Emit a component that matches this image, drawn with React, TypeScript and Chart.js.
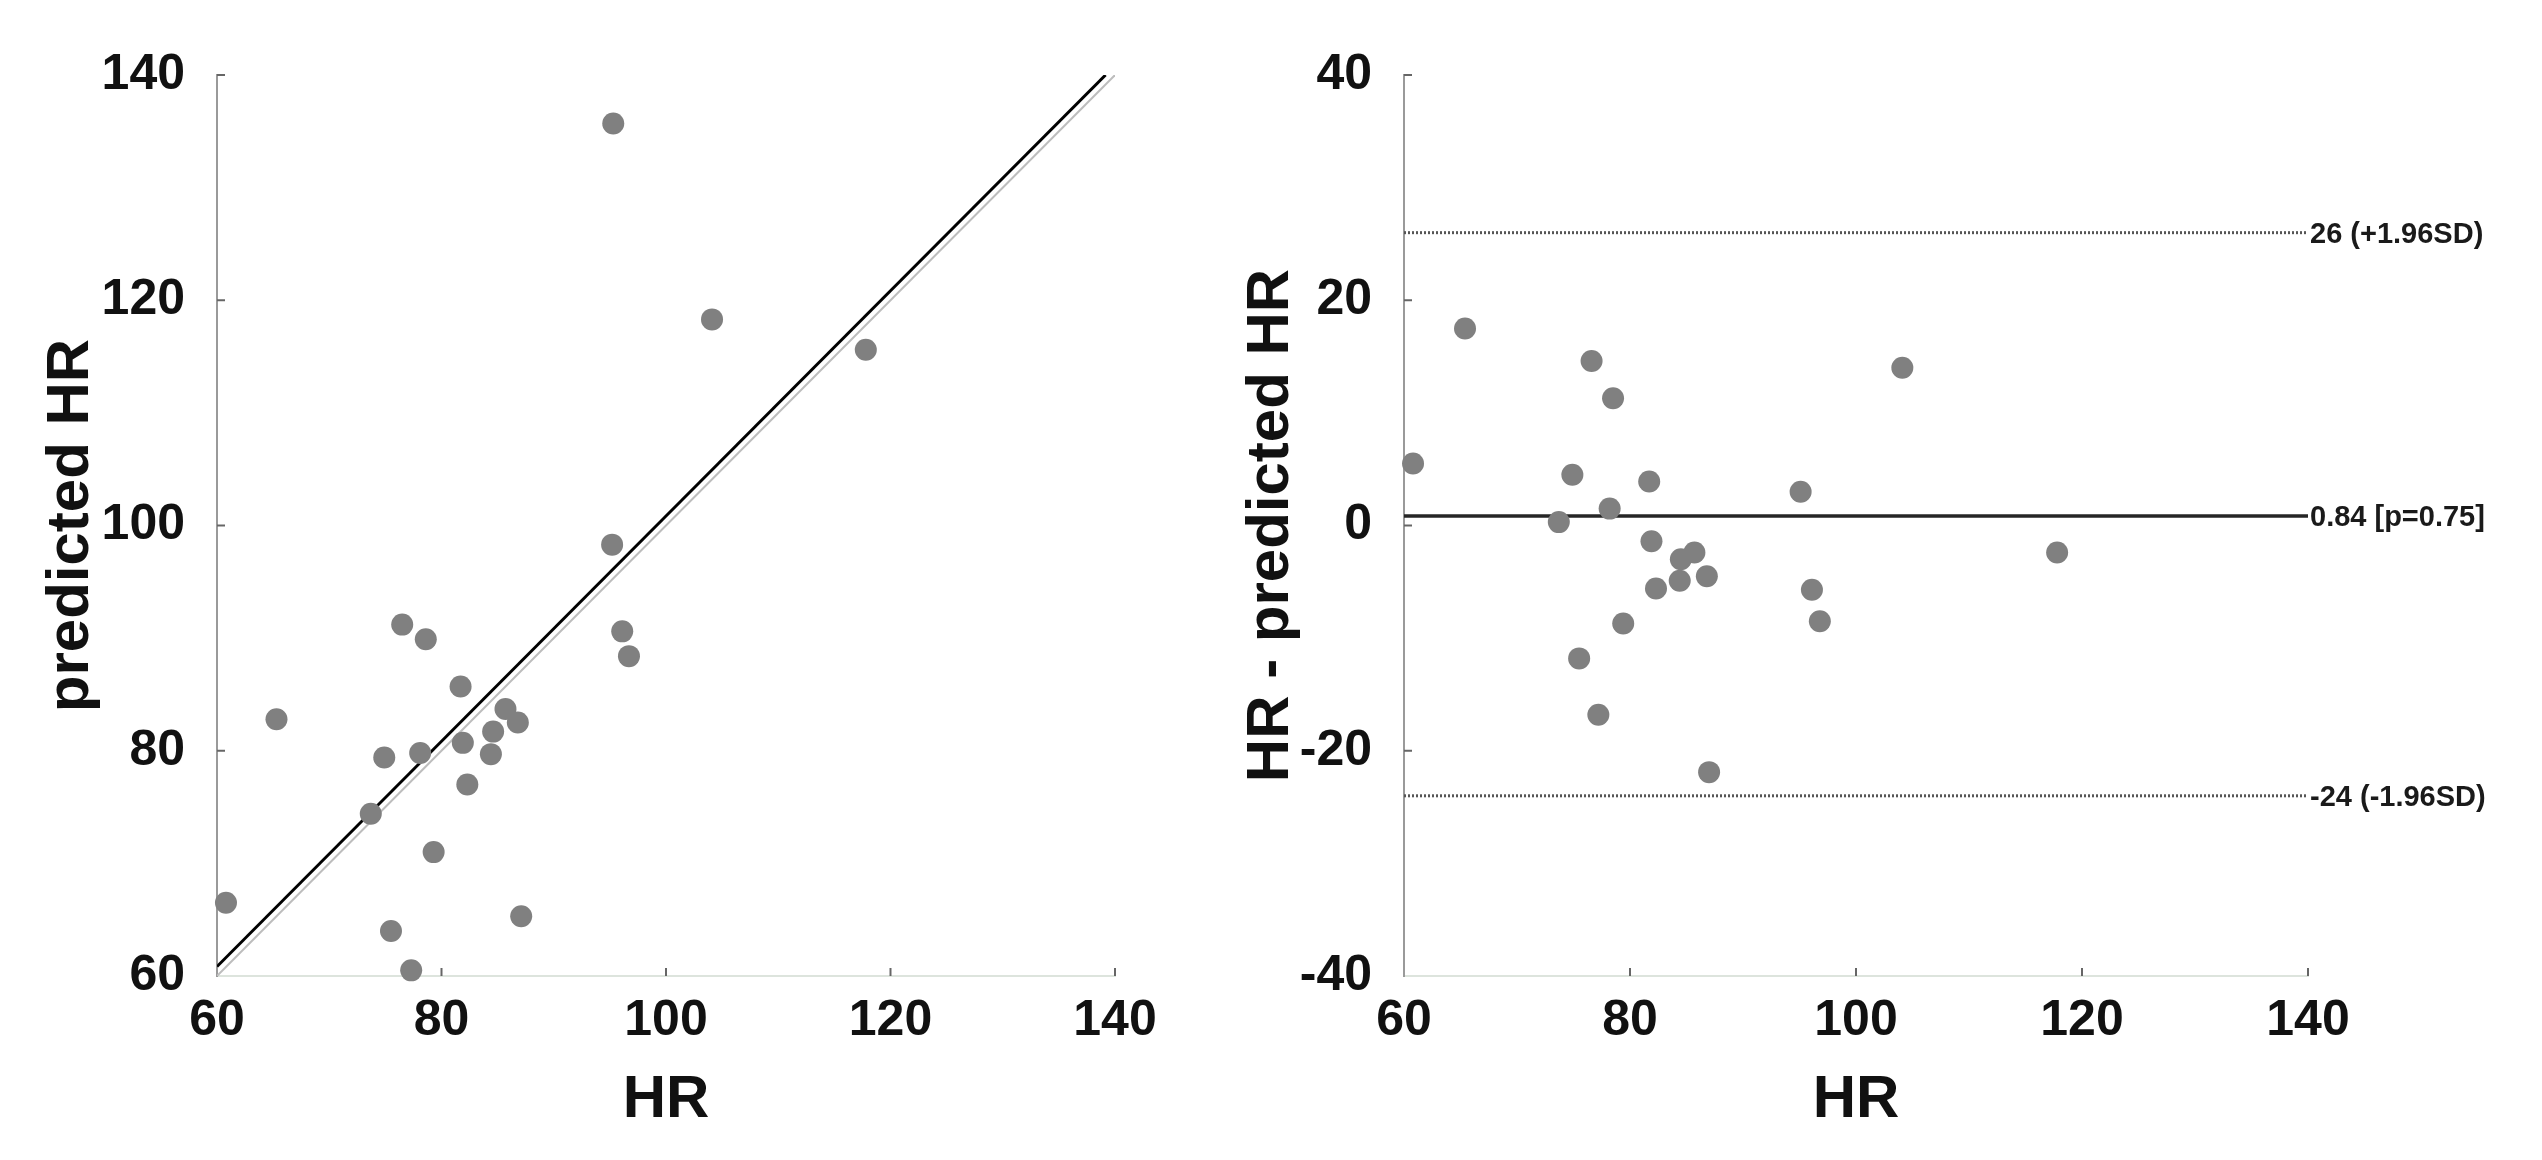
import React, { useEffect, useRef } from "react";
import { Chart, registerables } from "chart.js";
Chart.register(...registerables);

// ---- data ----
const HR_LEFT = [95.3, 104.1, 117.8, 95.2, 76.5, 78.6, 96.1, 96.7, 65.3, 81.7, 85.7, 86.8, 84.6, 74.9, 78.1, 81.9, 84.4, 82.3, 73.7, 79.3, 60.8, 75.5, 87.1, 77.3];
const PRED_LEFT = [135.7, 118.3, 115.6, 98.3, 91.2, 89.9, 90.6, 88.4, 82.8, 85.7, 83.7, 82.5, 81.7, 79.4, 79.8, 80.7, 79.7, 77.0, 74.4, 71.0, 66.5, 64.0, 65.3, 60.5];

const HR_RIGHT = [60.8, 65.4, 76.6, 78.5, 74.9, 81.7, 78.2, 73.7, 95.1, 104.1, 81.9, 85.7, 84.5, 84.4, 82.3, 86.8, 96.1, 96.8, 79.4, 117.8, 75.5, 77.2, 87.0];
const DIFF_RIGHT = [5.5, 17.5, 14.6, 11.3, 4.5, 3.9, 1.5, 0.3, 3.0, 14.0, -1.4, -2.4, -3.0, -4.9, -5.6, -4.5, -5.7, -8.5, -8.7, -2.4, -11.8, -16.8, -21.9];

const X_TICKS = [60, 80, 100, 120, 140];
const Y_TICKS_LEFT = [60, 80, 100, 120, 140];
const Y_TICKS_RIGHT = [-40, -20, 0, 20, 40];

const IDENTITY_X = [60, 140];
const IDENTITY_Y = [60, 140];
const FIT_X = [60, 139.16];
const FIT_Y = [60.84, 140];

const LIMIT_X = [60, 140];
const UPPER_LOA = 26;
const MEAN_DIFF = 0.84;
const LOWER_LOA = -24;
const REF_VALUES = [UPPER_LOA, MEAN_DIFF, LOWER_LOA];
const REF_LABELS = ["26 (+1.96SD)", "0.84 [p=0.75]", "-24 (-1.96SD)"];

const FAMILY = "'Liberation Sans', Arial, Helvetica, sans-serif";
const TICK_FONT = { family: FAMILY, size: 50, weight: "bold" as const };
const TITLE_FONT = { family: FAMILY, size: 60, weight: "bold" as const };
const DOT = "#808080";

const inwardTicks = {
  id: "inwardTicks",
  afterDatasetsDraw(chart: any) {
    const { ctx, chartArea, scales } = chart;
    ctx.save();
    ctx.strokeStyle = "#666";
    ctx.lineWidth = 2;
    scales.x.ticks.forEach((t: any, i: number) => {
      if (i === 0) return;
      const px = scales.x.getPixelForValue(t.value);
      ctx.beginPath();
      ctx.moveTo(px, chartArea.bottom);
      ctx.lineTo(px, chartArea.bottom - 8);
      ctx.stroke();
    });
    scales.y.ticks.forEach((t: any, i: number) => {
      if (i === 0) return;
      const py = scales.y.getPixelForValue(t.value);
      ctx.beginPath();
      ctx.moveTo(chartArea.left, py);
      ctx.lineTo(chartArea.left + 8, py);
      ctx.stroke();
    });
    ctx.restore();
  },
};

const refLabels = {
  id: "refLabels",
  afterDatasetsDraw(chart: any) {
    if (!chart.options.plugins.refLabels?.enabled) return;
    const { ctx, scales } = chart;
    ctx.save();
    ctx.font = `bold 29px ${FAMILY}`;
    ctx.fillStyle = "#1a1a1a";
    ctx.textBaseline = "middle";
    ctx.textAlign = "left";
    const x = scales.x.getPixelForValue(LIMIT_X[1]) + 2;
    REF_VALUES.forEach((v, i) => {
      ctx.fillText(REF_LABELS[i], x, scales.y.getPixelForValue(v) + 2);
    });
    ctx.restore();
  },
};

function xScale(height: number) {
  return {
    type: "linear",
    position: "bottom",
    min: 60,
    max: 140,
    afterBuildTicks: (s: any) => {
      s.ticks = X_TICKS.map((v) => ({ value: v }));
    },
    afterFit: (s: any) => {
      s.height = height;
    },
    border: { display: true, color: "#dde4dd", width: 2 },
    grid: { display: true, drawOnChartArea: false, drawTicks: false },
    ticks: { font: TICK_FONT, color: "#111", padding: 15, maxRotation: 0, autoSkip: false },
    title: { display: true, text: "HR", font: TITLE_FONT, color: "#111", padding: { top: 0, bottom: 24 } },
  };
}

function yScale(min: number, max: number, ticks: number[], width: number, title: string, titlePad: number) {
  return {
    type: "linear",
    position: "left",
    min,
    max,
    afterBuildTicks: (s: any) => {
      s.ticks = ticks.map((v) => ({ value: v }));
    },
    afterFit: (s: any) => {
      s.width = width;
    },
    border: { display: true, color: "#9a9a9a", width: 2 },
    grid: { display: true, drawOnChartArea: false, drawTicks: false },
    ticks: { font: TICK_FONT, color: "#111", padding: 32, autoSkip: false },
    title: { display: true, text: title, font: TITLE_FONT, color: "#111", padding: { top: titlePad, bottom: 0 } },
  };
}

function toPoints(xs: number[], ys: number[]) {
  return xs.map((x, i) => ({ x, y: ys[i] }));
}

export default function App() {
  const leftRef = useRef<HTMLCanvasElement>(null);
  const rightRef = useRef<HTMLCanvasElement>(null);

  useEffect(() => {
    const left = new Chart(leftRef.current as HTMLCanvasElement, {
      type: "scatter",
      data: {
        datasets: [
          {
            data: toPoints(HR_LEFT, PRED_LEFT),
            backgroundColor: DOT,
            borderColor: DOT,
            pointRadius: 11,
            borderWidth: 0,
            clip: false,
            order: 0,
          } as any,
          {
            data: toPoints(FIT_X, FIT_Y),
            showLine: true,
            borderColor: "#000",
            borderWidth: 3,
            pointRadius: 0,
            order: 1,
          },
          {
            data: toPoints(IDENTITY_X, IDENTITY_Y),
            showLine: true,
            borderColor: "#bdbdbd",
            borderWidth: 2,
            pointRadius: 0,
            order: 2,
          },
        ],
      },
      options: {
        responsive: false,
        animation: false,
        layout: { padding: { left: 0, top: 75, right: 115, bottom: 0 } },
        plugins: { legend: { display: false }, tooltip: { enabled: false } },
        scales: {
          x: xScale(184) as any,
          y: yScale(60, 140, Y_TICKS_LEFT, 217, "predicted HR", 35) as any,
        },
      },
      plugins: [inwardTicks],
    });

    const right = new Chart(rightRef.current as HTMLCanvasElement, {
      type: "scatter",
      data: {
        datasets: [
          {
            data: toPoints(HR_RIGHT, DIFF_RIGHT),
            backgroundColor: DOT,
            borderColor: DOT,
            pointRadius: 11,
            borderWidth: 0,
            clip: false,
            order: 0,
          } as any,
          {
            data: toPoints(LIMIT_X, [MEAN_DIFF, MEAN_DIFF]),
            showLine: true,
            borderColor: "#262626",
            borderWidth: 3.5,
            pointRadius: 0,
            order: 1,
          },
          {
            data: toPoints(LIMIT_X, [UPPER_LOA, UPPER_LOA]),
            showLine: true,
            borderColor: "#555",
            borderWidth: 3,
            borderDash: [2, 2],
            pointRadius: 0,
            order: 2,
          },
          {
            data: toPoints(LIMIT_X, [LOWER_LOA, LOWER_LOA]),
            showLine: true,
            borderColor: "#555",
            borderWidth: 3,
            borderDash: [2, 2],
            pointRadius: 0,
            order: 3,
          },
        ],
      },
      options: {
        responsive: false,
        animation: false,
        layout: { padding: { left: 0, top: 75, right: 234, bottom: 0 } },
        plugins: { legend: { display: false }, tooltip: { enabled: false }, refLabels: { enabled: true } } as any,
        scales: {
          x: xScale(184) as any,
          y: yScale(-40, 40, Y_TICKS_RIGHT, 174, "HR - predicted HR", 5) as any,
        },
      },
      plugins: [inwardTicks, refLabels],
    });

    return () => {
      left.destroy();
      right.destroy();
    };
  }, []);

  return (
    <div style={{ position: "absolute", left: 0, top: 0, width: 2542, height: 1160, background: "#fff", overflow: "hidden" }}>
      <canvas ref={leftRef} width={1230} height={1160} style={{ position: "absolute", left: 0, top: 0 }} />
      <canvas ref={rightRef} width={1312} height={1160} style={{ position: "absolute", left: 1230, top: 0 }} />
    </div>
  );
}
